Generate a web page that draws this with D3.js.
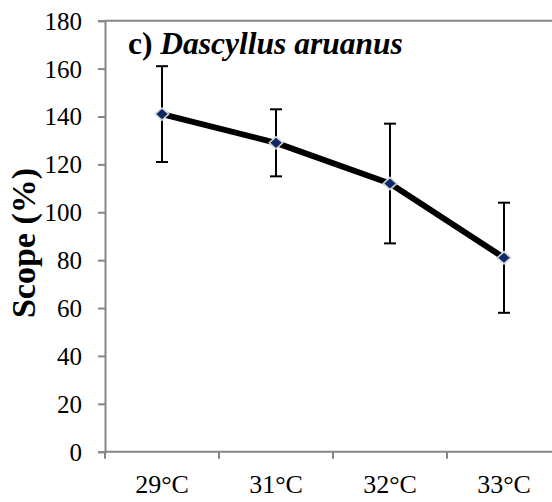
<!DOCTYPE html>
<html>
<head>
<meta charset="utf-8">
<script src="https://cdn.jsdelivr.net/npm/d3@7/dist/d3.min.js"></script>
</head>
<body style="margin:0;padding:0;background:#fff">
<svg id="chart" width="552" height="502" style="display:block;font-family:'Liberation Serif','Times New Roman',serif" font-family="Liberation Serif, Times New Roman, serif"></svg>
<script>
const categories = ["29°C", "31°C", "32°C", "33°C"];
const scopeValues = [141, 129, 112, 81];
const errorLow = [121, 115, 87, 58];
const errorHigh = [161, 143, 137, 104];
const yTicks = [0, 20, 40, 60, 80, 100, 120, 140, 160, 180];

(function () {
const FONT = "'Liberation Serif', 'Times New Roman', serif";
const FONT_ATTR = "Liberation Serif, Times New Roman, serif";
const svg = d3.select("#chart");
const plotLeft = 105, plotRight = 561, plotTop = 20.7, plotBottom = 451.7;

const x = d3.scaleBand().domain(categories).range([plotLeft, plotRight]);
const y = d3.scaleLinear().domain([0, 180]).range([plotBottom, plotTop]);

const axisColor = "#868686";

// top line at max
svg.append("line")
  .attr("x1", plotLeft).attr("x2", 552)
  .attr("y1", y(180)).attr("y2", y(180))
  .attr("stroke", axisColor).attr("stroke-width", 2);

// Y axis
const yAxis = svg.append("g").attr("transform", `translate(${plotLeft},0)`)
  .call(d3.axisLeft(y).tickValues(yTicks).tickSize(7).tickPadding(16).tickFormat(d3.format("d")));
yAxis.attr("font-family", FONT_ATTR).attr("font-size", 25);
yAxis.select(".domain").attr("stroke", axisColor).attr("stroke-width", 2);
yAxis.selectAll(".tick line").attr("stroke", axisColor).attr("stroke-width", 2);
yAxis.selectAll(".tick text")
  .attr("fill", "#000")
  .attr("font-family", FONT_ATTR)
  .style("font-family", FONT)
  .style("font-size", "25px")
  .attr("dy", "0.34em");

// X axis
const xAxis = svg.append("g").attr("transform", `translate(0,${plotBottom})`);
xAxis.append("line").attr("x1", plotLeft).attr("x2", 552).attr("y1", 0).attr("y2", 0)
  .attr("stroke", axisColor).attr("stroke-width", 2);
const bounds = categories.map(c => x(c)).concat([x(categories[categories.length - 1]) + x.bandwidth()]);
xAxis.selectAll("line.tk").data(bounds).enter().append("line")
  .attr("class", "tk")
  .attr("x1", d => d).attr("x2", d => d).attr("y1", 0).attr("y2", 7)
  .attr("stroke", axisColor).attr("stroke-width", 2);
xAxis.selectAll("text.lbl").data(categories).enter().append("text")
  .attr("class", "lbl")
  .attr("x", d => x(d) + x.bandwidth() / 2)
  .attr("y", 41)
  .attr("text-anchor", "middle")
  .attr("font-family", FONT_ATTR)
  .style("font-family", FONT)
  .style("font-size", "26px")
  .attr("fill", "#000")
  .text(d => d);

// Y axis title
svg.append("text")
  .attr("transform", "translate(35,243) rotate(-90)")
  .attr("text-anchor", "middle")
  .attr("font-family", FONT_ATTR)
  .style("font-family", FONT)
  .style("font-size", "34px")
  .style("font-weight", "bold")
  .text("Scope (%)");

// Chart title
const title = svg.append("text")
  .attr("x", 128).attr("y", 54)
  .attr("font-family", FONT_ATTR)
  .style("font-family", FONT)
  .style("font-size", "31.5px")
  .style("font-weight", "bold");
title.append("tspan").style("font-family", FONT).text("c) ");
title.append("tspan").style("font-family", FONT).style("font-style", "italic").text("Dascyllus aruanus");

const cx = d => x(d) + x.bandwidth() / 2;
const data = categories.map((c, i) => ({c, v: scopeValues[i], lo: errorLow[i], hi: errorHigh[i]}));

// error bars
const eb = svg.append("g");
data.forEach(d => {
  eb.append("line").attr("x1", cx(d.c)).attr("x2", cx(d.c)).attr("y1", y(d.lo)).attr("y2", y(d.hi))
    .attr("stroke", "#000").attr("stroke-width", 2);
  [d.lo, d.hi].forEach(v => {
    eb.append("line").attr("x1", cx(d.c) - 6).attr("x2", cx(d.c) + 6).attr("y1", y(v)).attr("y2", y(v))
      .attr("stroke", "#000").attr("stroke-width", 2);
  });
});

// line
svg.append("path")
  .datum(data)
  .attr("d", d3.line().x(d => cx(d.c)).y(d => y(d.v)))
  .attr("fill", "none").attr("stroke", "#000").attr("stroke-width", 6)
  .attr("stroke-linejoin", "round");

// markers
svg.selectAll("path.mk").data(data).enter().append("path")
  .attr("class", "mk")
  .attr("d", d3.symbol().type(d3.symbolDiamond2).size(95))
  .attr("transform", d => `translate(${cx(d.c)},${y(d.v)}) scale(1.1,1)`)
  .attr("fill", "#0b2a66")
  .attr("stroke", "#d3d3d3").attr("stroke-width", 1.5);
})();
</script>
</body>
</html>
